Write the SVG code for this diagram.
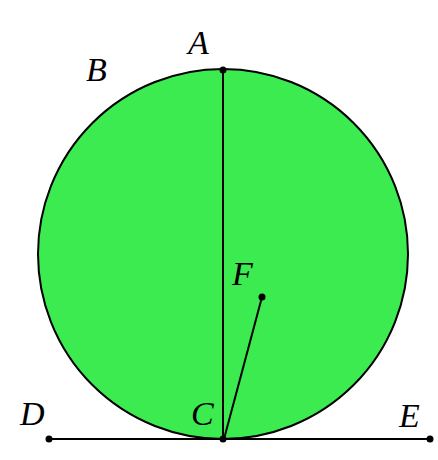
<svg xmlns="http://www.w3.org/2000/svg" width="438" height="460" viewBox="0 0 438 460">
<style>
.lbl{font-family:"Liberation Serif","DejaVu Serif",serif;font-style:italic;font-size:34px;fill:#000;}
.ln{stroke:#000;stroke-width:2;fill:none;}
.dot{fill:#000;}
</style>
<rect width="438" height="460" fill="#fff"/>
<g id="circle"><circle cx="223" cy="254" r="185" fill="#3ceb50" stroke="#000" stroke-width="2"/></g>
<g id="connectors">
<line class="ln" x1="223" y1="70" x2="223" y2="439"/>
<line class="ln" x1="49" y1="439" x2="430" y2="439"/>
<line class="ln" x1="224" y1="439" x2="262" y2="297"/>
</g>
<g id="A"><circle class="dot" cx="223" cy="70" r="3.5"/><text class="lbl" x="188" y="54">A</text></g>
<g id="B"><text class="lbl" x="86" y="81">B</text></g>
<g id="F"><circle class="dot" cx="262" cy="297" r="3.5"/><text class="lbl" x="232" y="285">F</text></g>
<g id="C"><circle class="dot" cx="223" cy="439" r="3.5"/><text class="lbl" x="191" y="425">C</text></g>
<g id="D"><circle class="dot" cx="49" cy="439" r="3.5"/><text class="lbl" x="20" y="425">D</text></g>
<g id="E"><circle class="dot" cx="430" cy="439" r="3.5"/><text class="lbl" x="399" y="427">E</text></g>
</svg>
